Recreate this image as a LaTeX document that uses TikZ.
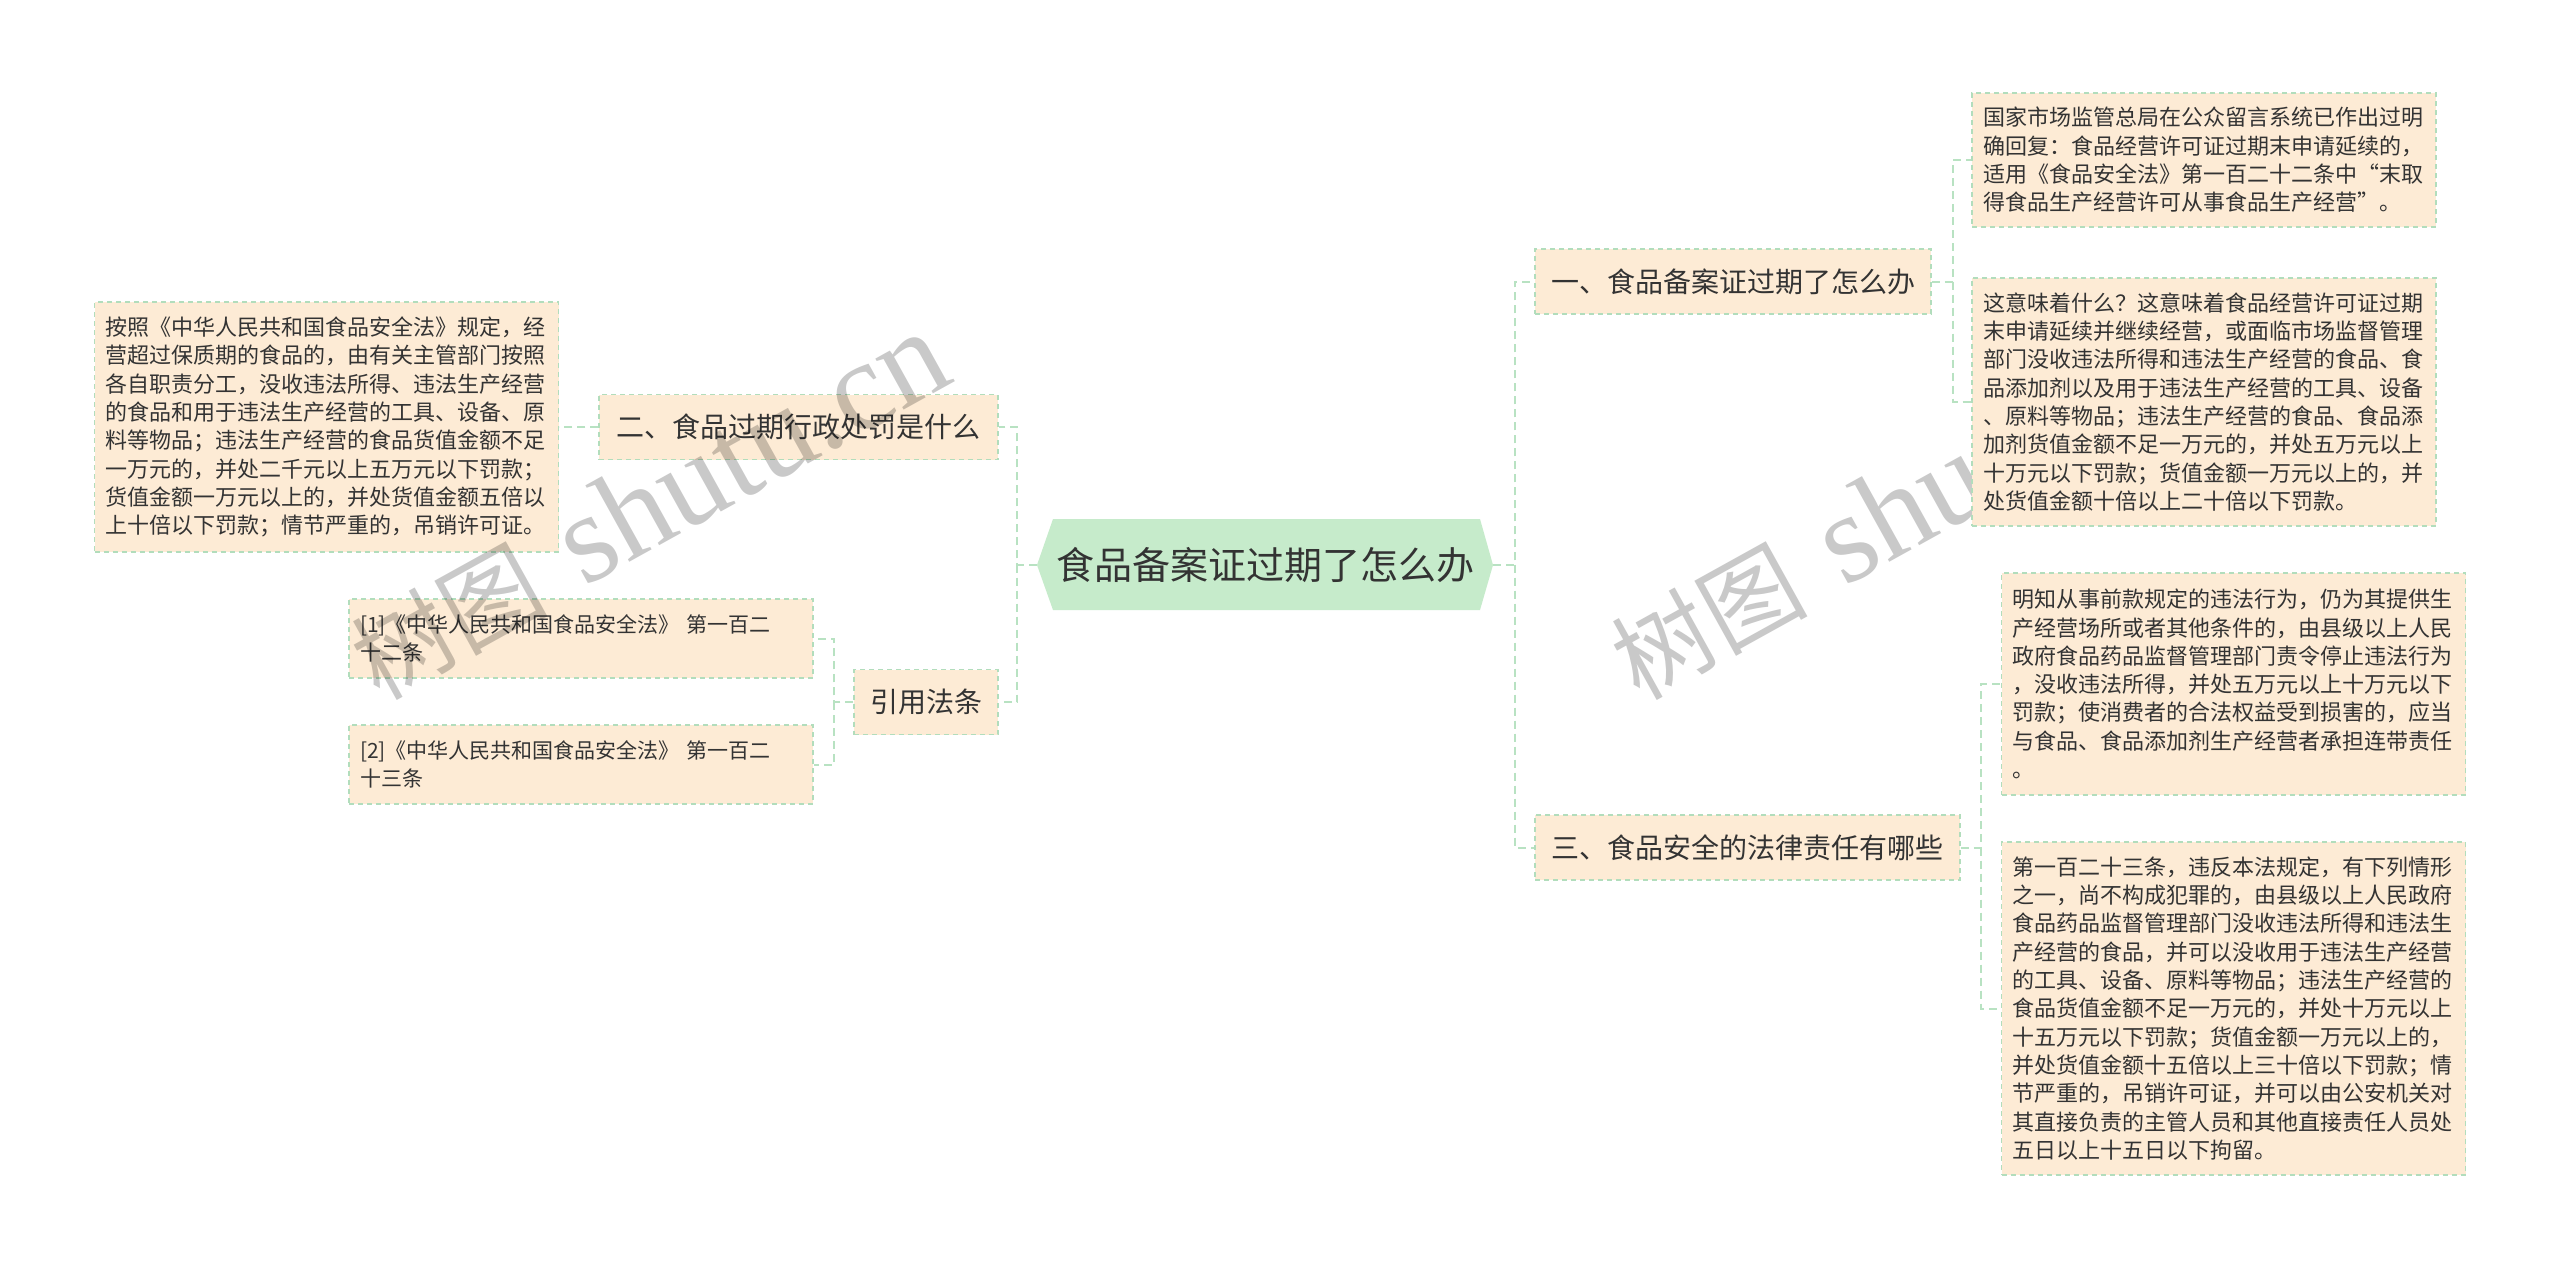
\documentclass[tikz,border=0pt]{standalone}
\usepackage{fontspec}
\newfontfamily\cjk{Noto Sans CJK SC}
\newfontfamily\wmserif{Liberation Serif}
\definecolor{boxfill}{HTML}{FDEBD5}
\definecolor{bordergreen}{HTML}{B2DDBC}
\definecolor{linegreen}{HTML}{B8E2C2}
\definecolor{rootfill}{HTML}{C6EBCB}
\definecolor{textdark}{HTML}{333333}
\newcommand{\wmtext}{{\cjk\fontsize{98}{100}\selectfont 树图}\hspace*{38pt}{\wmserif\fontsize{127}{130}\selectfont shutu.cn}}
\tikzset{
  box/.style={draw=bordergreen, line width=1.5pt, dash pattern=on 5pt off 4pt, fill=boxfill, text=textdark},
  leaf/.style={box, font=\cjk\fontsize{22}{28.3}\selectfont, align=left, inner xsep=11pt, inner ysep=0pt, text width=442pt},
  cite/.style={leaf, font=\cjk\fontsize{21}{28.3}\selectfont},
  mid/.style={box, font=\cjk\fontsize{28}{34}\selectfont, inner sep=0pt, minimum height=65pt},
  conn/.style={draw=linegreen, line width=2pt, dash pattern=on 8pt off 5pt},
  wm/.style={inner sep=0pt, rotate=29},
}
\begin{document}
\begin{tikzpicture}[x=1pt,y=-1pt]
\useasboundingbox (0,0) rectangle (2560,1272);
\fill[white] (0,0) rectangle (2560,1272);

% right watermark (under the boxes)
\node[wm, text=black!21] (wm2) at (1909,506) {\wmtext};

% central node
\fill[rootfill] (1037,565) -- (1053,519) -- (1480,519) -- (1493,565) -- (1480,610) -- (1053,610) -- cycle;
\node[font=\cjk\fontsize{38}{44}\selectfont, text=textdark, inner sep=0pt, minimum width=456pt, minimum height=91pt] (root) at (1265,564.5) {食品备案证过期了怎么办};

% level-1 nodes
\node[mid, minimum width=396pt] (n1) at (1733,281.5) {一、食品备案证过期了怎么办};
\node[mid, minimum width=399pt] (n2) at (798.5,427) {二、食品过期行政处罚是什么};
\node[mid, minimum width=144pt] (cite) at (926,702) {引用法条};
\node[mid, minimum width=425pt] (n3) at (1747.5,847.5) {三、食品安全的法律责任有哪些};

% leaves
\node[leaf, minimum height=250pt] (t2) at (326.5,427) {按照《中华人民共和国食品安全法》规定，经\\营超过保质期的食品的，由有关主管部门按照\\各自职责分工，没收违法所得、违法生产经营\\的食品和用于违法生产经营的工具、设备、原\\料等物品；违法生产经营的食品货值金额不足\\一万元的，并处二千元以上五万元以下罚款；\\货值金额一万元以上的，并处货值金额五倍以\\上十倍以下罚款；情节严重的，吊销许可证。};
\node[cite, minimum height=79pt] (c1) at (581,638.5) {[1]《中华人民共和国食品安全法》 第一百二\\十二条};
\node[cite, minimum height=79pt] (c2) at (581,764.5) {[2]《中华人民共和国食品安全法》 第一百二\\十三条};
\node[leaf, minimum height=134pt] (r1) at (2204,160) {国家市场监管总局在公众留言系统已作出过明\\确回复：食品经营许可证过期末申请延续的，\\适用《食品安全法》第一百二十二条中“末取\\得食品生产经营许可从事食品生产经营”。};
\node[leaf, minimum height=248pt] (r2) at (2204,402) {这意味着什么？这意味着食品经营许可证过期\\末申请延续并继续经营，或面临市场监督管理\\部门没收违法所得和违法生产经营的食品、食\\品添加剂以及用于违法生产经营的工具、设备\\、原料等物品；违法生产经营的食品、食品添\\加剂货值金额不足一万元的，并处五万元以上\\十万元以下罚款；货值金额一万元以上的，并\\处货值金额十倍以上二十倍以下罚款。};
\node[leaf, minimum height=222pt] (r3) at (2233.5,684) {明知从事前款规定的违法行为，仍为其提供生\\产经营场所或者其他条件的，由县级以上人民\\政府食品药品监督管理部门责令停止违法行为\\，没收违法所得，并处五万元以上十万元以下\\罚款；使消费者的合法权益受到损害的，应当\\与食品、食品添加剂生产经营者承担连带责任\\。};
\node[leaf, minimum height=333pt] (r4) at (2233.5,1008.5) {第一百二十三条，违反本法规定，有下列情形\\之一，尚不构成犯罪的，由县级以上人民政府\\食品药品监督管理部门没收违法所得和违法生\\产经营的食品，并可以没收用于违法生产经营\\的工具、设备、原料等物品；违法生产经营的\\食品货值金额不足一万元的，并处十万元以上\\十五万元以下罚款；货值金额一万元以上的，\\并处货值金额十五倍以上三十倍以下罚款；情\\节严重的，吊销许可证，并可以由公安机关对\\其直接负责的主管人员和其他直接责任人员处\\五日以上十五日以下拘留。};

% connectors
\coordinate (jl) at (1017,564.5);
\draw[conn] (root.west) -- (jl) |- (n2.east);
\draw[conn] (jl) |- (cite.east);
\draw[conn] (n2.west) -- (t2.east);
\coordinate (jc) at (834,702);
\draw[conn] (cite.west) -- (jc) |- (c1.east);
\draw[conn] (jc) |- (c2.east);
\coordinate (jr) at (1515,564.5);
\draw[conn] (root.east) -- (jr) |- (n1.west);
\draw[conn] (jr) |- (n3.west);
\coordinate (j1) at (1953,281.5);
\draw[conn] (n1.east) -- (j1) |- (r1.west);
\draw[conn] (j1) |- (r2.west);
\coordinate (j3) at (1981,847.5);
\draw[conn] (n3.east) -- (j3) |- (r3.west);
\draw[conn] (j3) |- (r4.west);

% left watermark (over the boxes)
\node[wm, text=black, text opacity=0.21] (wm1) at (649,506) {\wmtext};
\end{tikzpicture}
\end{document}
